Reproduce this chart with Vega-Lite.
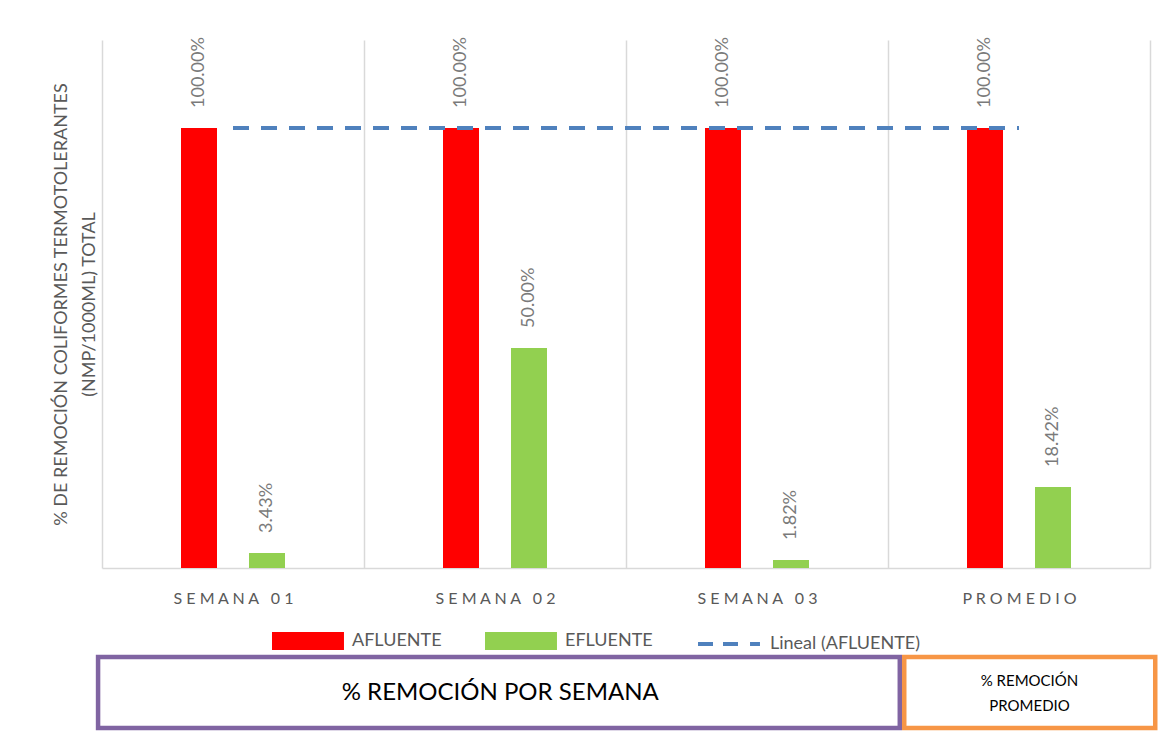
{
  "$schema": "https://vega.github.io/schema/vega-lite/v6.json",
  "background": "white",
  "padding": {"left": 52, "top": 37, "right": 10, "bottom": 0},
  "config": {"view": {"stroke": null}, "font": "Lato"},
  "datasets": {
    "barras": [
      {"semana": "SEMANA 01", "serie": "AFLUENTE", "valor": 1},
      {"semana": "SEMANA 01", "serie": "EFLUENTE", "valor": 0.0343},
      {"semana": "SEMANA 02", "serie": "AFLUENTE", "valor": 1},
      {"semana": "SEMANA 02", "serie": "EFLUENTE", "valor": 0.5},
      {"semana": "SEMANA 03", "serie": "AFLUENTE", "valor": 1},
      {"semana": "SEMANA 03", "serie": "EFLUENTE", "valor": 0.0182},
      {"semana": "PROMEDIO", "serie": "AFLUENTE", "valor": 1},
      {"semana": "PROMEDIO", "serie": "EFLUENTE", "valor": 0.1842}
    ],
    "tendencia": [
      {"semana": "SEMANA 01", "serie": "Lineal (AFLUENTE)", "valor": 1},
      {"semana": "SEMANA 02", "serie": "Lineal (AFLUENTE)", "valor": 1},
      {"semana": "SEMANA 03", "serie": "Lineal (AFLUENTE)", "valor": 1},
      {"semana": "PROMEDIO", "serie": "Lineal (AFLUENTE)", "valor": 1}
    ],
    "cuadros": [
      {"cuadro": "semana", "desde": -0.015, "hasta": 3.045, "centro": 1.52, "texto": "% REMOCIÓN POR SEMANA"},
      {"cuadro": "promedio", "desde": 3.062, "hasta": 4.02, "centro": 3.54, "texto": "% REMOCIÓN\nPROMEDIO"}
    ]
  },
  "spacing": 48,
  "vconcat": [
    {
      "width": 1048,
      "height": 528,
      "encoding": {
        "x": {
          "field": "semana", "type": "nominal",
          "sort": ["SEMANA 01", "SEMANA 02", "SEMANA 03", "PROMEDIO"],
          "scale": {"paddingInner": 0, "paddingOuter": 0},
          "axis": {
            "title": null, "labelAngle": 0, "labelFont": "Lato", "labelFontSize": 16,
            "labelColor": "#595959", "labelPadding": 22, "ticks": false,
            "domainColor": "#d9d9d9", "domainWidth": 1.5,
            "grid": true, "gridColor": "#d9d9d9", "gridWidth": 1.5, "tickBand": "extent",
            "labelExpr": "join(split(datum.label, ''), '\u00a0')"
          }
        },
        "y": {
          "field": "valor", "type": "quantitative",
          "scale": {"domain": [0, 1.2]},
          "axis": {
            "title": ["% DE REMOCIÓN COLIFORMES TERMOTOLERANTES", "(NMP/1000ML) TOTAL"],
            "titleFont": "Lato", "titleFontSize": 18, "titleFontWeight": "normal",
            "titleColor": "#595959", "titleLineHeight": 28,
            "labels": false, "ticks": false, "domain": false, "grid": false, "titlePadding": 4
          }
        }
      },
      "layer": [
        {
          "data": {"name": "barras"},
          "mark": {"type": "bar", "width": 36},
          "encoding": {
            "xOffset": {"field": "serie", "type": "nominal", "sort": ["AFLUENTE", "EFLUENTE"],
              "scale": {"paddingInner": 0.147, "paddingOuter": 1}},
            "color": {
              "field": "serie", "type": "nominal",
              "scale": {"domain": ["AFLUENTE", "EFLUENTE", "Lineal (AFLUENTE)"], "range": ["#ff0000", "#92d050", "#4f81bd"]},
              "legend": {
                "title": null, "orient": "none", "legendX": 170, "legendY": 592,
                "direction": "horizontal", "symbolSize": 196,
                "labelFont": "Lato", "labelFontSize": 18, "labelColor": "#595959",
                "labelOffset": 62, "columnPadding": 37,
                "encode": {"symbols": {"update": {
                  "shape": [{"test": "datum.value === 'Lineal (AFLUENTE)'", "value": "M-0.14,0H2M3.43,0H5.57M7.29,0H8.71"}, {"value": "M-1,-1H8.71V1H-1Z"}],
                  "fill": [{"test": "datum.value === 'AFLUENTE'", "value": "#ff0000"}, {"test": "datum.value === 'EFLUENTE'", "value": "#92d050"}, {"value": "transparent"}],
                  "stroke": [{"test": "datum.value === 'Lineal (AFLUENTE)'", "value": "#4f81bd"}, {"value": "transparent"}],
                  "strokeWidth": {"value": 4},
                  "strokeDash": {"value": []},
                  "opacity": {"value": 1}
                }}}
              }
            }
          }
        },
        {
          "data": {"name": "barras"},
          "mark": {"type": "text", "angle": 270, "align": "left", "baseline": "middle", "dx": 20,
            "font": "Lato", "fontSize": 18, "color": "#7a7a7a"},
          "encoding": {
            "xOffset": {"field": "serie", "type": "nominal", "sort": ["AFLUENTE", "EFLUENTE"]},
            "text": {"field": "valor", "type": "quantitative", "format": ".2%"}
          }
        },
        {
          "data": {"name": "tendencia"},
          "mark": {"type": "line", "strokeDash": [16, 12], "strokeWidth": 4, "strokeCap": "butt"},
          "encoding": {
            "color": {"field": "serie", "type": "nominal"}
          }
        }
      ]
    },
    {
      "width": 1048,
      "height": 71,
      "data": {"name": "cuadros"},
      "encoding": {
        "x": {"field": "desde", "type": "quantitative", "scale": {"domain": [0, 4]}, "axis": null}
      },
      "layer": [
        {
          "mark": {"type": "rect", "fill": "white", "strokeWidth": 4.5},
          "encoding": {
            "x2": {"field": "hasta"},
            "stroke": {"field": "cuadro", "type": "nominal",
              "scale": {"domain": ["semana", "promedio"], "range": ["#8064a2", "#f79646"]}, "legend": null}
          }
        },
        {
          "transform": [{"filter": "datum.cuadro === 'semana'"}],
          "mark": {"type": "text", "font": "Lato", "color": "black", "fontSize": 24},
          "encoding": {
            "x": {"field": "centro", "type": "quantitative"},
            "text": {"field": "texto", "type": "nominal"}
          }
        },
        {
          "transform": [{"filter": "datum.cuadro === 'promedio'"}],
          "mark": {"type": "text", "lineBreak": "\n", "font": "Lato", "color": "black", "fontSize": 15, "lineHeight": 25, "dy": -12},
          "encoding": {
            "x": {"field": "centro", "type": "quantitative"},
            "text": {"field": "texto", "type": "nominal"}
          }
        }
      ]
    }
  ]
}
